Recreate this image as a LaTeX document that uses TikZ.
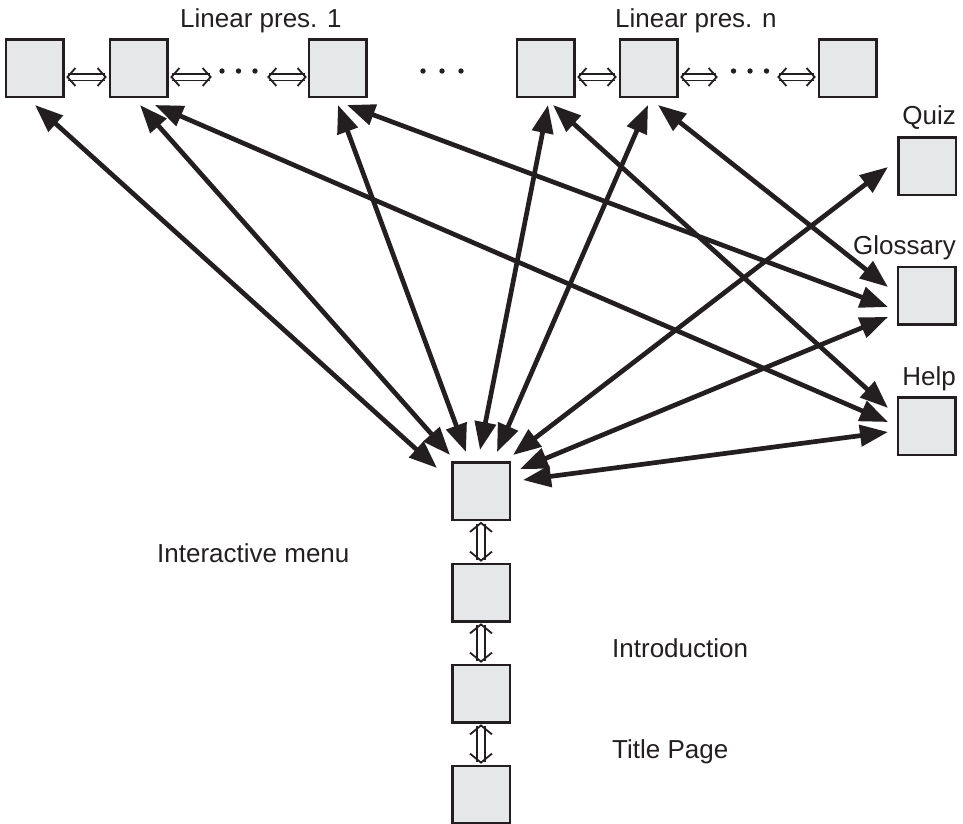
\documentclass[tikz,border=0pt]{standalone}
\usepackage{fontspec}
\setmainfont{Liberation Sans}
\usetikzlibrary{arrows.meta}
\definecolor{ink}{HTML}{231F20}
\definecolor{boxfill}{HTML}{E6E7E8}
\tikzset{
  hbarb/.tip={Straight Barb[length=8pt,width=18pt,line width=1.8pt]},
  vbarb/.tip={Straight Barb[length=9pt,width=22pt,line width=1.8pt]}
}
\begin{document}
\begin{tikzpicture}[x=1pt,y=-1pt,
  box/.style={draw=ink, fill=boxfill, line width=2.5pt, minimum size=57.5pt, inner sep=0pt, outer sep=0pt},
  lbl/.style={font=\fontsize{26}{30}\selectfont, text=ink, inner sep=0pt},
  big/.style={draw=ink, line width=4.7pt, {Triangle[length=28pt,width=21pt]}-{Triangle[length=28pt,width=21pt]}},
  dbl/.style={draw=ink, double=white, double distance=5pt, line width=1.6pt, {hbarb}-{hbarb}},
  vdbl/.style={draw=ink, double=white, double distance=6.5pt, line width=1.6pt, shorten <=2pt, shorten >=2pt, {vbarb}-{vbarb}},
  dotsnode/.style={inner sep=0pt, minimum width=48pt, minimum height=8pt,
    path picture={\fill[ink] (path picture bounding box.center) circle (2.7pt)
      ++({-#1},0) circle (2.7pt) ++({2*#1},0) circle (2.7pt);}},
  dotsnode/.default=16.5
]
\useasboundingbox (0,0) rectangle (963,823);

% top row
\node[box] (b1) at (34.5,68) {};
\node[box] (b2) at (138.5,68) {};
\node[box] (b3) at (337.5,68) {};
\node[box] (b4) at (545.5,68) {};
\node[box] (b5) at (648.5,68) {};
\node[box] (b6) at (847.5,68) {};
\node[dotsnode] (d1) at (238.5,71) {};
\node[dotsnode=19] (d0) at (442,71) {};
\node[dotsnode] (d2) at (750,71) {};

% right column
\node[box] (quiz) at (927,166) {};
\node[box] (gloss) at (926.5,295.5) {};
\node[box] (help) at (926.5,426) {};

% center column
\node[box] (m) at (481,491) {};
\node[box] (c2) at (481,592.5) {};
\node[box] (c3) at (481,693.5) {};
\node[box] (c4) at (481,794.5) {};

% labels
\node[lbl, anchor=base west] (l1) at (180,27) {Linear pres. 1};
\node[lbl, anchor=base west] (ln) at (615,27) {Linear pres. n};
\node[lbl, anchor=base east] (lq) at (956,124) {Quiz};
\node[lbl, anchor=base east] (lg) at (956,254) {Glossary};
\node[lbl, anchor=base east] (lh) at (956,385) {Help};
\node[lbl, anchor=base west] (lm) at (157,562) {Interactive menu};
\node[lbl, anchor=base west] (li) at (612,657) {Introduction};
\node[lbl, anchor=base west] (lt) at (612,758) {Title Page};

% horizontal double arrows
\draw[dbl] ([shift={(3,9)}]b1.east) -- ([shift={(-3,9)}]b2.west);
\draw[dbl] ([shift={(3,9)}]b2.east) -- ([shift={(-2.5,6)}]d1.west);
\draw[dbl] ([shift={(4.5,6)}]d1.east) -- ([shift={(-2,9)}]b3.west);
\draw[dbl] ([shift={(3,9)}]b4.east) -- ([shift={(-3,9)}]b5.west);
\draw[dbl] ([shift={(3,9)}]b5.east) -- ([shift={(-8,6)}]d2.west);
\draw[dbl] ([shift={(3,6)}]d2.east) -- ([shift={(-3,9)}]b6.west);

% vertical double arrows
\draw[vdbl] (m.south) -- (c2.north);
\draw[vdbl] (c2.south) -- (c3.north);
\draw[vdbl] (c3.south) -- (c4.north);

% big arrows
\draw[big] ([shift={(0.5,37)}]b1.center) -- ([shift={(-44,-23)}]m.center);
\draw[big] ([shift={(1.5,37)}]b2.center) -- ([shift={(-31,-36)}]m.center);
\draw[big] ([shift={(16.5,37)}]b2.center) -- ([shift={(-38.5,-4)}]help.center);
\draw[big] ([shift={(0.5,37)}]b3.center) -- ([shift={(-15,-39)}]m.center);
\draw[big] ([shift={(9.5,37)}]b3.center) -- ([shift={(-38.5,11.5)}]gloss.center);
\draw[big] ([shift={(2.5,37)}]b4.center) -- ([shift={(-1,-41)}]m.center);
\draw[big] ([shift={(7.5,37)}]b4.center) -- ([shift={(-38.5,-18)}]help.center);
\draw[big] ([shift={(-0.5,37)}]b5.center) -- ([shift={(16,-39)}]m.center);
\draw[big] ([shift={(9.5,37)}]b5.center) -- ([shift={(-38.5,-8.5)}]gloss.center);
\draw[big] ([shift={(-39,1)}]quiz.center) -- ([shift={(32,-36)}]m.center);
\draw[big] ([shift={(-38.5,21.5)}]gloss.center) -- ([shift={(39,-22)}]m.center);
\draw[big] ([shift={(-38.5,6)}]help.center) -- ([shift={(42,-11)}]m.center);
\end{tikzpicture}
\end{document}
